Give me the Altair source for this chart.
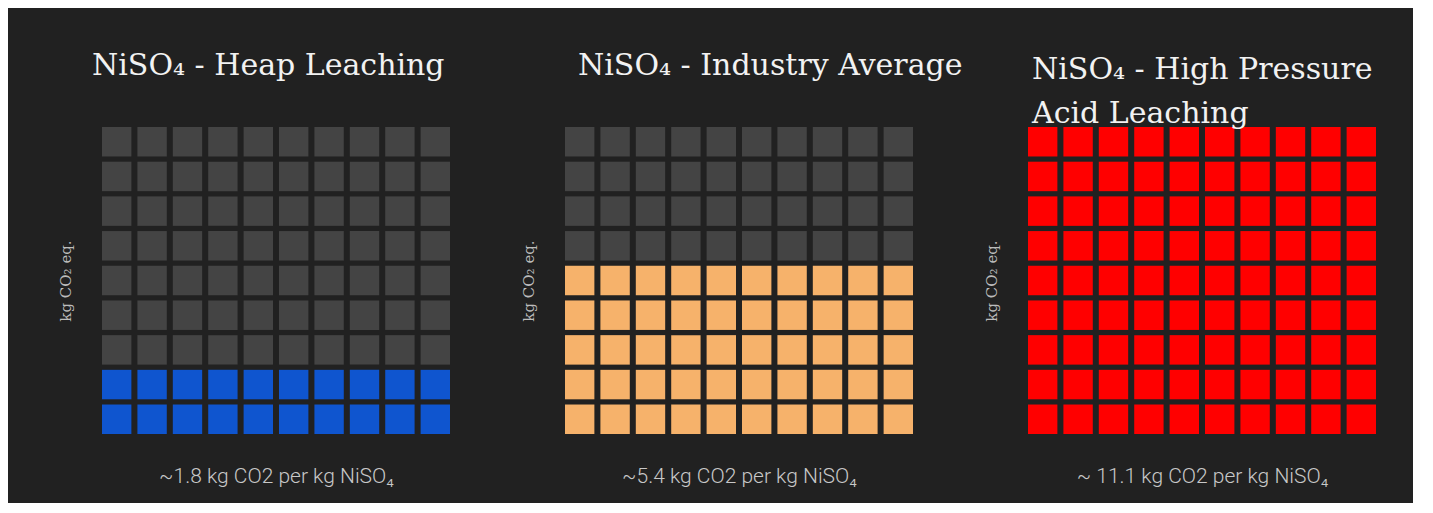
import altair as alt
import pandas as pd

# ---- data ----
panel_keys = ["heap", "industry", "hpal"]
panel_titles = [
    ["NiSO₄ - Heap Leaching"],
    ["NiSO₄ - Industry Average"],
    ["NiSO₄ - High Pressure", "Acid Leaching"],
]
co2_values = [1.8, 5.4, 11.1]          # kg CO2 per kg NiSO4
filled_rows = [2, 5, 9]                # rows of the 10x9 waffle that are coloured
fill_colors = ["#0f55cf", "#f6b26b", "#ff0000"]
captions = [
    "~1.8 kg CO2 per kg NiSO₄",
    "~5.4 kg CO2 per kg NiSO₄",
    "~ 11.1 kg CO2 per kg NiSO₄",
]
y_title = "kg CO₂ eq."
n_cols = 10
n_rows = 9

# ---- style ----
BG = "#212121"
EMPTY = "#444444"
TITLE_DX = [-10, 13, 4]
TITLE_OFFSET = [46, 46, -2]


def panel(i):
    rows = []
    for r in range(n_rows):
        for c in range(n_cols):
            rows.append({"col": c, "row": r, "filled": r < filled_rows[i],
                         "panel": panel_keys[i], "value": co2_values[i]})
    df = pd.DataFrame(rows)
    return (
        alt.Chart(df)
        .mark_rect()
        .encode(
            x=alt.X("col:O", scale=alt.Scale(paddingInner=0.17, paddingOuter=0),
                    axis=alt.Axis(labels=False, ticks=False, domain=False, title=captions[i],
                                  titlePadding=31, titleFont="Roboto", titleFontSize=21,
                                  titleFontWeight=300, titleColor="#c8c8c8")),
            y=alt.Y("row:O", sort="descending",
                    scale=alt.Scale(paddingInner=0.15, paddingOuter=0),
                    axis=alt.Axis(labels=False, ticks=False, domain=False, title=y_title,
                                  titlePadding=29, titleFont="DejaVu Serif", titleFontSize=15,
                                  titleFontWeight="normal", titleColor="#bcbcbc")),
            color=alt.condition("datum.filled", alt.value(fill_colors[i]), alt.value(EMPTY)),
        )
        .properties(
            width=348,
            height=307,
            title=alt.TitleParams(
                text=panel_titles[i], anchor="start", frame="group", dx=TITLE_DX[i],
                offset=TITLE_OFFSET[i], font="DejaVu Serif", fontSize=30,
                fontWeight="normal", color="#f2f2f2", lineHeight=44,
            ),
        )
    )


chart = (
    alt.hconcat(panel(0), panel(1), panel(2), spacing=115, bounds="flush")
    .properties(padding={"left": 50, "top": 43, "right": 37, "bottom": 17})
    .configure(background=BG)
    .configure_view(stroke=None)
)

chart.save("out.html", embed_options={"renderer": "svg", "actions": False})
